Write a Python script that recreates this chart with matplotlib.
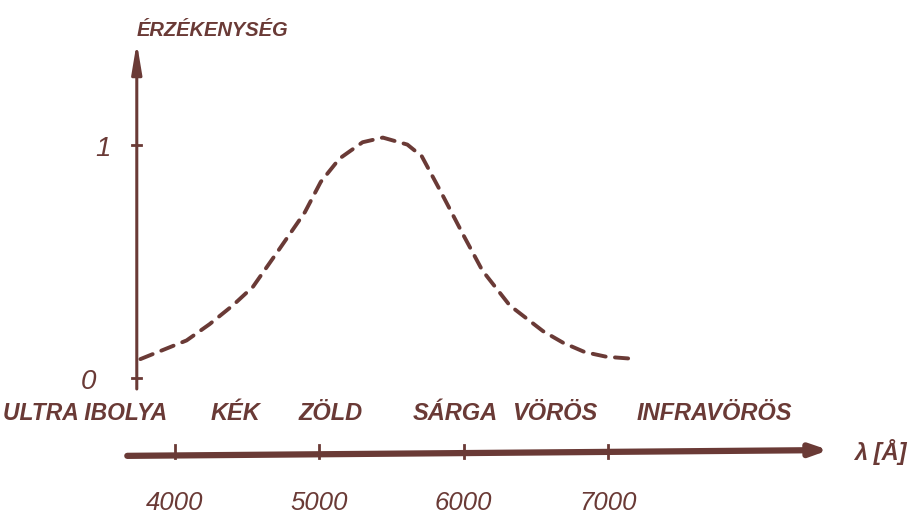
import matplotlib.pyplot as plt

# Spektrális érzékenység (kézi rajz alapján leolvasva)
hullamhossz = [3760, 3880, 4080, 4240, 4400, 4540, 4710, 4900, 5010, 5140, 5300,
               5440, 5610, 5710, 5840, 6000, 6130, 6320, 6550, 6690, 6840, 6990, 7200]
erzekenyseg = [0.08, 0.11, 0.16, 0.23, 0.31, 0.39, 0.54, 0.71, 0.84, 0.94, 1.01,
               1.03, 1.00, 0.95, 0.80, 0.61, 0.46, 0.31, 0.20, 0.15, 0.11, 0.09, 0.08]

x_tickek = [4000, 5000, 6000, 7000]
x_feliratok = ['4000', '5000', '6000', '7000']
y_tickek = [0, 1]
y_feliratok = ['0', '1']

szin_nevek = ['KÉK', 'ZÖLD', 'SÁRGA', 'VÖRÖS', 'INFRAVÖRÖS']
szin_helyek = [4420, 5080, 5940, 6630, 7740]

tinta = '#6a3a36'
betu = ['Liberation Sans', 'DejaVu Sans']

fig = plt.figure(figsize=(9.21, 5.2), dpi=100)
ax = fig.add_axes([0, 0, 1, 1])
ax.set_xlim(2787, 9170)
ax.set_ylim(-0.61, 1.62)
ax.axis('off')

# függőleges tengely nyíllal
ax.annotate('', xy=(3735, 1.45), xytext=(3735, -0.06),
            arrowprops=dict(arrowstyle='-|>,head_length=1.8,head_width=0.3',
                            lw=2.2, color=tinta))
for t, f in zip(y_tickek, y_feliratok):
    ax.plot([3705, 3765], [t, t], color=tinta, lw=2)
    ax.text(3500 - (1 - t) * 100, t - 0.02, f, color=tinta, fontsize=20,
            fontstyle='italic', family=betu, ha='center', va='center')

ax.text(3737, 1.49, 'ÉRZÉKENYSÉG', color=tinta, fontsize=14.5, fontweight='bold',
        fontstyle='italic', family=betu, ha='left', va='center')

# vízszintes tengely nyíllal
ax.annotate('', xy=(8550, -0.31), xytext=(3650, -0.335),
            arrowprops=dict(arrowstyle='-|>,head_length=1.0,head_width=0.35',
                            lw=4.5, color=tinta))
for t, f in zip(x_tickek, x_feliratok):
    ax.plot([t, t], [-0.345, -0.29], color=tinta, lw=2)
    ax.text(t, -0.535, f, color=tinta, fontsize=18.5, fontstyle='italic',
            family=betu, ha='center', va='center')
ax.text(8890, -0.32, 'λ [Å]', color=tinta, fontsize=17, fontweight='bold',
        fontstyle='italic', family=betu, ha='center', va='center')

# színtartományok nevei
ax.text(2805, -0.155, 'ULTRA IBOLYA', color=tinta, fontsize=16.5, fontweight='bold',
        fontstyle='italic', family=betu, ha='left', va='center')
for nev, hely in zip(szin_nevek, szin_helyek):
    ax.text(hely, -0.155, nev, color=tinta, fontsize=17, fontweight='bold',
            fontstyle='italic', family=betu, ha='center', va='center')

# érzékenységi görbe szaggatott vonallal
ax.plot(hullamhossz, erzekenyseg, color=tinta, lw=2.8, dashes=(3.4, 2.4),
        dash_capstyle='round')

fig.savefig('out.png', dpi=100, facecolor='white')
